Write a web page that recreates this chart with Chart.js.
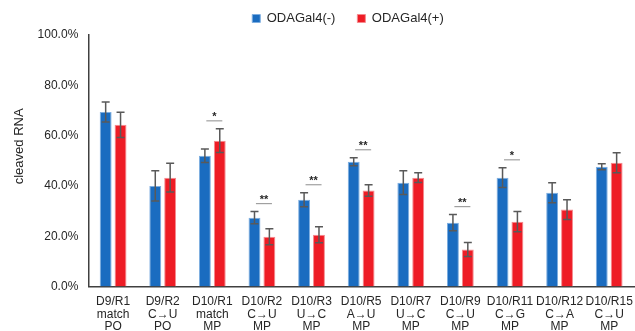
<!DOCTYPE html>
<html>
<head>
<meta charset="utf-8">
<script src="https://cdn.jsdelivr.net/npm/chart.js@4"></script>
<style>
  html, body { margin: 0; padding: 0; background: #fff; }
  #wrap { width: 635px; height: 331px; }
</style>
</head>
<body>
<div id="wrap"><canvas id="rnaChart"></canvas></div>
<script>
const labels = [
    ["D9/R1", "match", "PO"],
    ["D9/R2", "C\u2192U", "PO"],
    ["D10/R1", "match", "MP"],
    ["D10/R2", "C\u2192U", "MP"],
    ["D10/R3", "U\u2192C", "MP"],
    ["D10/R5", "A\u2192U", "MP"],
    ["D10/R7", "U\u2192C", "MP"],
    ["D10/R9", "C\u2192U", "MP"],
    ["D10/R11", "C\u2192G", "MP"],
    ["D10/R12", "C\u2192A", "MP"],
    ["D10/R15", "C\u2192U", "MP"]
];
const minusValues = [69.4, 40.0, 52.0, 27.4, 34.5, 49.6, 41.3, 25.4, 43.3, 37.3, 47.6];
const minusErrors = [4.0, 6.0, 2.7, 2.4, 2.8, 1.6, 4.7, 3.2, 3.9, 4.0, 1.2];
const plusValues = [64.3, 43.3, 58.0, 19.8, 20.6, 38.2, 43.3, 14.7, 25.8, 30.6, 49.2];
const plusErrors = [5.0, 5.7, 4.7, 3.2, 3.2, 2.3, 1.9, 2.8, 4.0, 3.9, 4.0];
const significance = ["", "", "*", "**", "**", "**", "", "**", "*", "", ""];

const FONT = "'Liberation Sans', Arial, sans-serif";

const errorBars = {
    id: "errorBars",
    afterDatasetsDraw(chart) {
        const ctx = chart.ctx;
        const y = chart.scales.y;
        const errs = [minusErrors, plusErrors];
        ctx.save();
        ctx.strokeStyle = "#595959";
        ctx.lineWidth = 1.5;
        chart.data.datasets.forEach((ds, i) => {
            const meta = chart.getDatasetMeta(i);
            meta.data.forEach((bar, j) => {
                const v = ds.data[j], e = errs[i][j];
                const top = y.getPixelForValue(v + e);
                const bot = y.getPixelForValue(v - e);
                ctx.beginPath();
                ctx.moveTo(bar.x, top); ctx.lineTo(bar.x, bot);
                ctx.moveTo(bar.x - 4, top); ctx.lineTo(bar.x + 4, top);
                ctx.moveTo(bar.x - 4, bot); ctx.lineTo(bar.x + 4, bot);
                ctx.stroke();
            });
        });

        // significance marks above each pair
        const xs = chart.scales.x;
        significance.forEach((s, j) => {
            if (!s) return;
            const hi = Math.max(minusValues[j] + minusErrors[j], plusValues[j] + plusErrors[j]);
            const ly = y.getPixelForValue(hi) - 8;
            const cx = xs.getPixelForValue(j) + 2;
            ctx.strokeStyle = "#a0a0a0";
            ctx.lineWidth = 1.2;
            ctx.beginPath();
            ctx.moveTo(cx - 8, ly); ctx.lineTo(cx + 8, ly);
            ctx.stroke();
            ctx.fillStyle = "#262626";
            ctx.font = "bold 11px " + FONT;
            ctx.textAlign = "center";
            ctx.textBaseline = "bottom";
            ctx.fillText(s, cx, ly + 2);
        });
        ctx.restore();
    }
};

// nudge the legend right like the original
const legendShift = {
    id: "legendShift",
    afterLayout(chart) {
        chart.legend.left += 25;
        chart.legend.right += 25;
    }
};

new Chart(document.getElementById("rnaChart"), {
    type: "bar",
    data: {
        labels: labels,
        datasets: [
            { label: "ODAGal4(-)", data: minusValues, backgroundColor: "#1a6cc0", borderColor: "#7eaee0", borderWidth: 1 },
            { label: "ODAGal4(+)", data: plusValues, backgroundColor: "#ee1c25", borderColor: "#f58a8e", borderWidth: 1 }
        ]
    },
    options: {
        responsive: true,
        maintainAspectRatio: false,
        animation: false,
        datasets: { bar: { categoryPercentage: 0.6, barPercentage: 0.8 } },
        layout: { padding: { top: -10, right: 1, left: 12, bottom: 0 } },
        plugins: {
            legend: {
                position: "top",
                labels: {
                    boxWidth: 8, boxHeight: 8, padding: 22,
                    color: "#262626",
                    font: { family: FONT, size: 13 }
                }
            },
            tooltip: { enabled: false }
        },
        scales: {
            x: {
                grid: { display: false, drawTicks: false },
                border: { color: "#404040", width: 1.5 },
                afterFit: scale => { scale.height -= 11; scale.paddingRight = 0; },
                ticks: {
                    color: "#262626", padding: 9, maxRotation: 0, autoSkip: false,
                    font: { family: FONT, size: 12, lineHeight: 1.04 }
                }
            },
            y: {
                min: 0, max: 100,
                grid: { display: false, drawTicks: false },
                border: { color: "#404040", width: 1.5 },
                ticks: {
                    stepSize: 20, padding: 10, color: "#262626",
                    callback: v => v.toFixed(1) + "%",
                    font: { family: FONT, size: 12 }
                },
                title: {
                    display: true, text: "        cleaved RNA", color: "#262626", padding: 0,
                    font: { family: FONT, size: 13 }
                }
            }
        }
    },
    plugins: [errorBars, legendShift]
});
</script>
</body>
</html>
